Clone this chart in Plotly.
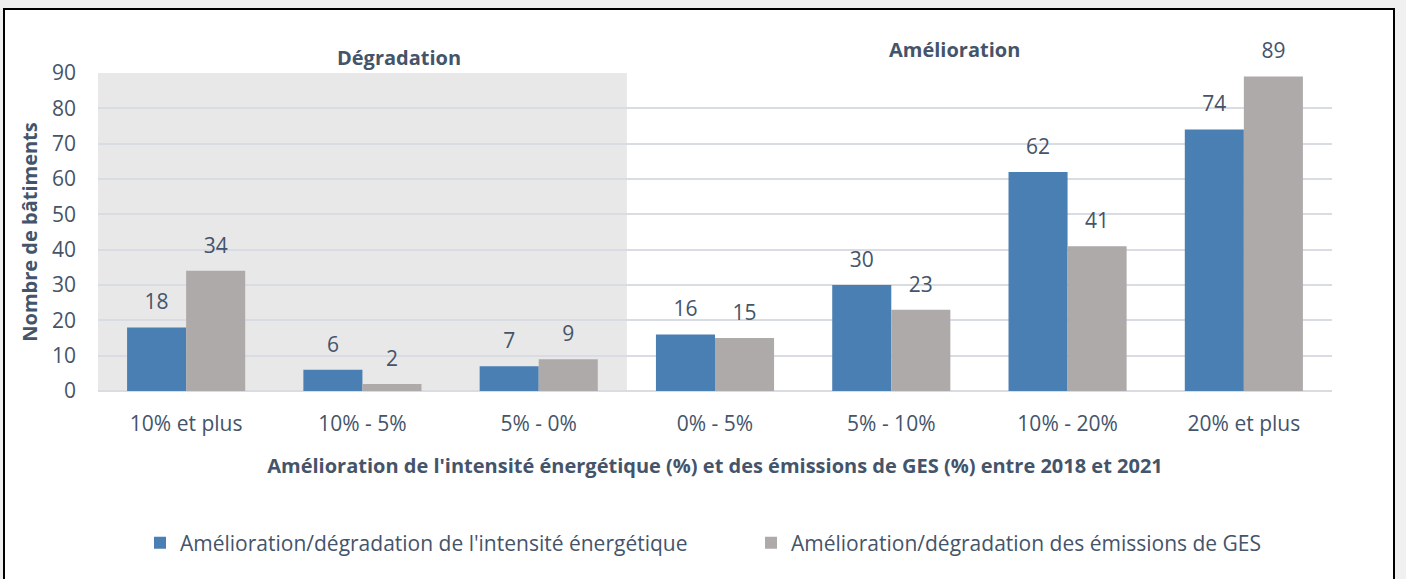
import plotly.graph_objects as go

categories = ["10% et plus", "10% - 5%", "5% - 0%", "0% - 5%", "5% - 10%", "10% - 20%", "20% et plus"]
intensite = [18, 6, 7, 16, 30, 62, 74]
ges = [34, 2, 9, 15, 23, 41, 89]
series_names = ["Amélioration/dégradation de l'intensité énergétique",
                "Amélioration/dégradation des émissions de GES"]
y_ticks = [0, 10, 20, 30, 40, 50, 60, 70, 80, 90]

TXT = "#44546a"
FONT = "Open Sans"
BLUE = "#4a7fb4"
GREY = "#aeaaaa"

W, H = 1406, 579
L, R, T, B = 98, 1406 - 1332, 73, 579 - 391
pw, ph = W - L - R, H - T - B

def px_x(p):
    return (p - L) / pw

def px_y(p):
    return (H - B - p) / ph

fig = go.Figure()
for vals, name, col, grp in [(intensite, series_names[0], BLUE, "a"), (ges, series_names[1], GREY, "b")]:
    fig.add_trace(go.Bar(x=categories, y=vals, name=name, marker_color=col, marker_line_width=0,
                         offsetgroup=grp, hoverinfo="skip"))
for vals, grp in [(intensite, "a"), (ges, "b")]:
    fig.add_trace(go.Scatter(x=categories, y=vals, mode="markers+text", text=[str(v) for v in vals],
                             textposition="top center", offsetgroup=grp, showlegend=False,
                             marker=dict(size=19, opacity=0), cliponaxis=False, hoverinfo="skip",
                             textfont=dict(size=21, color=TXT, family=FONT)))

shapes = [
    dict(type="rect", xref="paper", yref="paper", x0=px_x(4), x1=px_x(1394), y0=px_y(600), y1=px_y(9),
         fillcolor="white", line=dict(color="black", width=2), layer="below"),
    dict(type="rect", xref="x", yref="paper", x0=-0.5, x1=2.5, y0=0, y1=1,
         fillcolor="#e8e8e8", line=dict(width=0), layer="below"),
]

fig.update_layout(
    width=W, height=H,
    margin=dict(l=L, r=R, t=T, b=B, autoexpand=False),
    paper_bgcolor="#f0f0f0", plot_bgcolor="rgba(0,0,0,0)",
    barmode="group", bargap=0.33, bargroupgap=0,
    scattermode="group", scattergap=0.33,
    font=dict(family=FONT, color=TXT, size=21),
    shapes=shapes,
    showlegend=True,
    legend=dict(orientation="h", x=px_x(140), xanchor="left", y=px_y(543), yanchor="middle",
                font=dict(size=21, color=TXT, family=FONT), bgcolor="rgba(0,0,0,0)",
                itemwidth=30, traceorder="normal", entrywidth=566, entrywidthmode="pixels"),
    annotations=[
        dict(text="<b>Dégradation</b>", xref="x", yref="paper", x=1.207, y=px_y(57), yanchor="middle",
             showarrow=False, font=dict(size=20, color=TXT, family=FONT)),
        dict(text="<b>Amélioration</b>", xref="x", yref="paper", x=4.36, y=px_y(50), yanchor="middle",
             showarrow=False, font=dict(size=20, color=TXT, family=FONT)),
    ],
)
fig.update_xaxes(
    type="category", showgrid=False, showline=False, zeroline=False, ticks="",
    tickfont=dict(size=21, color=TXT, family=FONT), ticklabelstandoff=18,
    title=dict(text="<b>Amélioration de l'intensité énergétique (%) et des émissions de GES (%) entre 2018 et 2021</b>",
               font=dict(size=20, color=TXT, family=FONT), standoff=22),
)
fig.update_yaxes(
    range=[0, 90], tickvals=y_ticks, showgrid=True, gridcolor="#d9dde3", gridwidth=2,
    zeroline=True, zerolinecolor="#d9dde3", zerolinewidth=2, showline=False, ticks="",
    tickfont=dict(size=21, color=TXT, family=FONT), ticklabelstandoff=21,
    title=dict(text="<b>Nombre de bâtiments</b>", font=dict(size=20, color=TXT, family=FONT), standoff=8),
)

fig.write_html("out.html", config={"displayModeBar": False},
               post_script="document.body.style.margin='0';document.body.style.overflow='hidden';"
                           "document.body.style.background='#f0f0f0';")
